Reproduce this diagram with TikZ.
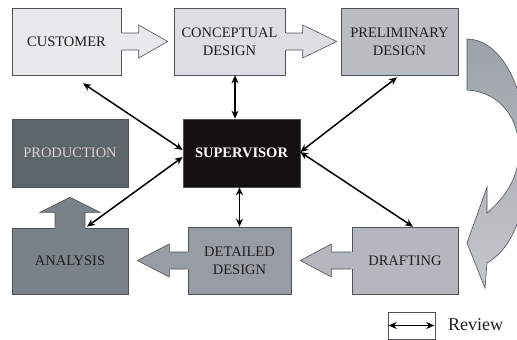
\documentclass[tikz,border=0pt]{standalone}
\usepackage{fontspec}
\setmainfont{Liberation Serif}
\usetikzlibrary{calc,arrows.meta}

\definecolor{custfill}{HTML}{E8E9EB}
\definecolor{concfill}{HTML}{DCDEE1}
\definecolor{prelfill}{HTML}{B9BCC1}
\definecolor{draftfill}{HTML}{B4B8BE}
\definecolor{detfill}{HTML}{989DA5}
\definecolor{anafill}{HTML}{7B8188}
\definecolor{prodfill}{HTML}{5E656A}
\definecolor{prodtext}{HTML}{DCD0D0}
\definecolor{supfill}{HTML}{151113}
\definecolor{edge}{HTML}{4E5358}
\definecolor{bendtop}{HTML}{9DA2A9}
\definecolor{bendbot}{HTML}{C4C7CC}
\definecolor{ink}{HTML}{1E1E1E}

\tikzset{
  stage/.style={draw=edge, line width=0.6pt, inner sep=0pt, align=center,
    text=ink, font=\fontsize{14.5}{18}\selectfont},
  review/.style={{Stealth[length=8pt,width=7pt]}-{Stealth[length=8pt,width=7pt]},
    line width=1.5pt, draw=black},
  blockedge/.style={draw=edge, line width=0.6pt, line join=miter}
}

% horizontal block arrow growing out of a box: tail, tip, signed head length, colour
\newcommand\stagearrow[4]{%
  \path[blockedge,fill=#4] let \p1=(#1), \p2=(#2) in
    (\x1,{\y1+8.5pt}) -- ({\x2-(#3)},{\y1+8.5pt}) -- ({\x2-(#3)},{\y1+16.5pt})
    -- (\x2,\y1) -- ({\x2-(#3)},{\y1-16.5pt}) -- ({\x2-(#3)},{\y1-8.5pt})
    -- (\x1,{\y1-8.5pt});
  \fill[#4] let \p1=(#1) in ({\x1-1pt},{\y1+8.2pt}) rectangle ({\x1+1pt},{\y1-8.2pt});
}
% upward block arrow growing out of a box: tail, tip, colour
\newcommand\stageup[3]{%
  \path[blockedge,fill=#3] let \p1=(#1), \p2=(#2) in
    ({\x1-15pt},\y1) -- ({\x1-15pt},{\y2-15pt}) -- ({\x1-30pt},{\y2-15pt})
    -- (\x1,\y2) -- ({\x1+30pt},{\y2-15pt}) -- ({\x1+15pt},{\y2-15pt})
    -- ({\x1+15pt},\y1);
  \fill[#3] let \p1=(#1) in ({\x1-14.7pt},{\y1-1pt}) rectangle ({\x1+14.7pt},{\y1+1pt});
}

\begin{document}
\begin{tikzpicture}[x=1pt, y=-1pt]
\useasboundingbox[fill=white] (0,0) rectangle (517,340);
\clip (0,0) rectangle (517,340);

% big bent arrow from PRELIMINARY DESIGN round to DRAFTING
\shade[blockedge, top color=bendtop, bottom color=bendbot]
  (467,39) .. controls (495,39) and (525,75) .. (527,150)
  .. controls (529,215) and (510,250) .. (487,263)
  -- (485,288) -- (467,243) -- (487,187) -- (487,213)
  .. controls (508,195) and (519,175) .. (519,150)
  .. controls (519,118) and (500,92) .. (467,90) -- cycle;

% stages
\node[stage, fill=custfill, minimum width=109pt, minimum height=67pt] (cust) at (66.5,41.5) {CUSTOMER};
\node[stage, fill=concfill, minimum width=111pt, minimum height=67pt] (conc) at (229.5,41.5) {CONCEPTUAL\\DESIGN};
\node[stage, fill=prelfill, minimum width=117pt, minimum height=67pt] (prel) at (399.5,41.5) {PRELIMINARY\\DESIGN};
\node[stage, fill=supfill, text=white, font=\fontsize{14.5}{18}\selectfont\bfseries,
      minimum width=117pt, minimum height=68pt] (sup) at (241.5,153) {SUPERVISOR};
\node[stage, fill=prodfill, text=prodtext, minimum width=116pt, minimum height=68pt] (prod) at (70,153) {PRODUCTION};
\node[stage, fill=anafill, minimum width=116pt, minimum height=66pt] (ana) at (70,261) {ANALYSIS};
\node[stage, fill=detfill, minimum width=103pt, minimum height=67pt] (det) at (239.5,260.5) {DETAILED\\DESIGN};
\node[stage, fill=draftfill, minimum width=106pt, minimum height=67pt] (draft) at (405,260.5) {DRAFTING};

% flow of the design work
\stagearrow{cust.east}{[xshift=-6pt]conc.west}{29pt}{custfill}
\stagearrow{conc.east}{[xshift=-4pt]prel.west}{34pt}{concfill}
\stagearrow{draft.west}{[xshift=9pt]det.east}{-31pt}{draftfill}
\stagearrow{det.west}{[xshift=9pt]ana.east}{-32pt}{detfill}
\stageup{ana.north}{[yshift=-10pt]prod.south}{anafill}

% review links with the supervisor
\draw[review] ([xshift=16.5pt,yshift=-8pt]cust.south) -- ([yshift=3pt]sup.west);
\draw[review] ([xshift=5.5pt]conc.south) -- ([xshift=5.5pt]conc.south |- sup.north);
\draw[review] ([xshift=-2.5pt,yshift=-2pt]prel.south) -- ([yshift=1pt]sup.east);
\draw[review] ([xshift=17pt,yshift=1pt]ana.north) -- ([yshift=-4pt]sup.west);
\draw[review] ([yshift=1pt]sup.east) -- ([xshift=8pt]draft.north);
\draw[review] (det.north) -- (det.north |- sup.south);

% legend
\node[draw=edge, line width=0.6pt, minimum width=47pt, minimum height=27pt, inner sep=0pt] (legbox) at (411.5,325.5) {};
\draw[review] ([xshift=1pt]legbox.west) -- ([xshift=-1pt]legbox.east);
\node[anchor=west, inner sep=0pt, text=ink, font=\fontsize{18}{20}\selectfont] (legtext) at (448,325) {Review};
\end{tikzpicture}
\end{document}
